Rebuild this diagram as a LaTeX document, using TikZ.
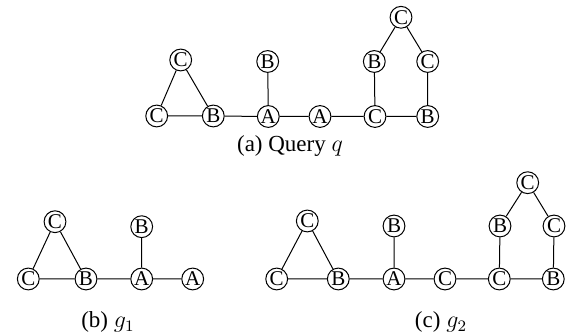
\documentclass[tikz,border=0pt]{standalone}
\usepackage{fontspec}
\setmainfont{Liberation Serif}
\begin{document}
\begin{tikzpicture}[x=0.5pt,y=-0.5pt,
  vert/.style={circle,draw,line width=0.5pt,inner sep=0pt,minimum size=10.9pt,font=\fontsize{10.5}{10.5}\selectfont},
  edge/.style={line width=0.5pt},
  captext/.style={font=\fontsize{11.5}{13}\selectfont,inner sep=0pt}]
\useasboundingbox (0,0) rectangle (573,335);
% (a) Query
\node[vert] (q1) at (156.7,116) {C};
\node[vert] (q2) at (213.3,116) {B};
\node[vert] (q3) at (268.3,116.5) {A};
\node[vert] (q4) at (320,116.5) {A};
\node[vert] (q5) at (375,116.5) {C};
\node[vert] (q6) at (427.7,116.5) {B};
\node[vert] (q7) at (180.7,60) {C};
\node[vert] (q8) at (267.7,61.5) {B};
\node[vert] (q9) at (374.3,61.5) {B};
\node[vert] (q10) at (427.7,61.5) {C};
\node[vert] (q11) at (401,17.3) {C};
\draw[edge] (q1)--(q2) (q2)--(q3) (q3)--(q4) (q4)--(q5) (q5)--(q6)
  (q1)--(q7) (q7)--(q2) (q3)--(q8) (q5)--(q9) (q6)--(q10) (q9)--(q11) (q11)--(q10);
\node[captext] (ca) at (290,146) {(a) Query $q$};
% (b) g1
\node[vert] (b1) at (28.3,279) {C};
\node[vert] (b2) at (86,279) {B};
\node[vert] (b3) at (141.7,279) {A};
\node[vert] (b4) at (192.7,279) {A};
\node[vert] (b5) at (55,221.7) {C};
\node[vert] (b6) at (141.7,226.7) {B};
\draw[edge] (b1)--(b2) (b2)--(b3) (b3)--(b4) (b1)--(b5) (b5)--(b2) (b3)--(b6);
\node[captext] (cb) at (108,322) {(b) $g_1$};
% (c) g2
\node[vert] (c1) at (276.7,279) {C};
\node[vert] (c2) at (338.3,279) {B};
\node[vert] (c3) at (394,279) {A};
\node[vert] (c4) at (445,279) {C};
\node[vert] (c5) at (499.3,279) {C};
\node[vert] (c6) at (553.3,279) {B};
\node[vert] (c7) at (307.3,221) {C};
\node[vert] (c8) at (394,226) {B};
\node[vert] (c9) at (500,226) {B};
\node[vert] (c10) at (554,226) {C};
\node[vert] (c11) at (527.7,182.7) {C};
\draw[edge] (c1)--(c2) (c2)--(c3) (c3)--(c4) (c4)--(c5) (c5)--(c6)
  (c1)--(c7) (c7)--(c2) (c3)--(c8) (c5)--(c9) (c6)--(c10) (c9)--(c11) (c11)--(c10);
\node[captext] (cc) at (441,322) {(c) $g_2$};
\end{tikzpicture}
\end{document}
